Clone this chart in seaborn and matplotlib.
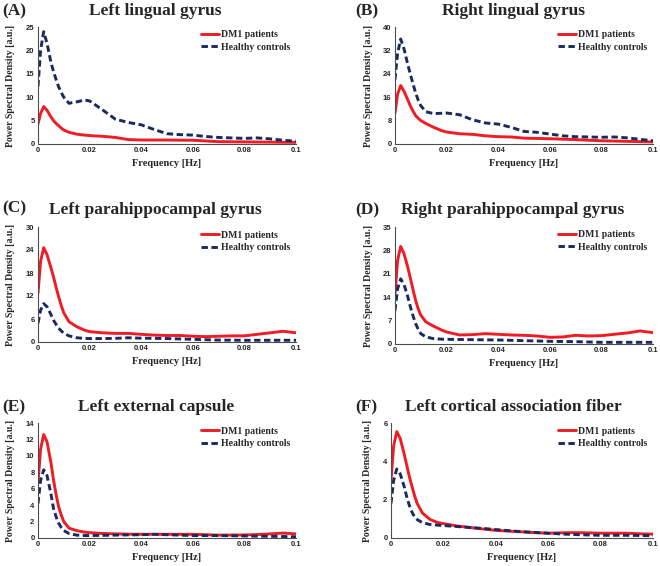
import numpy as np
import pandas as pd
import matplotlib
matplotlib.use("Agg")
import matplotlib.pyplot as plt
import seaborn as sns

freq = [0, 0.001, 0.0022, 0.0035, 0.005, 0.006, 0.007, 0.008, 0.009, 0.01, 0.012, 0.015,
        0.018, 0.02, 0.025, 0.03, 0.035, 0.04, 0.045, 0.05, 0.055, 0.06, 0.065, 0.07,
        0.075, 0.08, 0.085, 0.09, 0.095, 0.1]

a_dm1 = [4.3, 6.5, 8.0, 7.2, 5.8, 5.0, 4.4, 3.9, 3.4, 3.0, 2.5, 2.1, 1.9, 1.8, 1.65, 1.4,
         0.95, 0.85, 0.85, 0.85, 0.82, 0.8, 0.65, 0.5, 0.47, 0.45, 0.42, 0.4, 0.37, 0.35]
a_hc = [12.3, 20, 24, 21.5, 17.5, 15.5, 13.8, 12.2, 11, 10, 8.7, 9.0, 9.4, 9.2, 7.3, 5.3,
        4.6, 4.1, 3.1, 2.2, 2.0, 1.9, 1.6, 1.4, 1.3, 1.2, 1.3, 1.1, 0.8, 0.6]
b_dm1 = [10.6, 17, 20, 18, 15, 12.9, 11.2, 9.7, 8.8, 8, 7, 5.7, 4.6, 4.1, 3.5, 3.3, 2.8,
         2.5, 2.4, 2.0, 1.9, 1.8, 1.65, 1.5, 1.3, 1.1, 1.0, 0.9, 0.8, 0.7]
b_hc = [22, 31, 35.9, 32.5, 27, 23.7, 20.5, 17.4, 15, 13.1, 11, 10.4, 10.5, 10.6, 10, 8.3,
        7.2, 6.8, 5.7, 4.3, 4.0, 3.4, 2.8, 2.5, 2.4, 2.3, 2.4, 2.1, 1.6, 1.1]
c_dm1 = [12.7, 21, 24.6, 22.8, 19.4, 17, 14.3, 11.8, 9.5, 7.6, 5.3, 4, 3.1, 2.7, 2.4, 2.25,
         2.25, 2.0, 1.8, 1.7, 1.7, 1.5, 1.4, 1.5, 1.6, 1.6, 2.0, 2.4, 2.8, 2.4]
c_hc = [4.9, 8.3, 10, 9.2, 7.2, 5.7, 4.6, 3.6, 2.9, 2.3, 1.6, 1.1, 0.95, 0.9, 0.9, 0.95,
        1.1, 1.0, 0.95, 0.9, 0.8, 0.7, 0.6, 0.5, 0.48, 0.45, 0.45, 0.45, 0.45, 0.45]
d_dm1 = [15, 25, 29.2, 27, 22.8, 19.5, 16.2, 13, 10.5, 8.6, 6.6, 5.3, 4.2, 3.6, 2.7, 2.8,
         3.1, 2.9, 2.7, 2.6, 2.4, 2.0, 2.1, 2.6, 2.4, 2.5, 2.9, 3.3, 3.9, 3.4]
d_hc = [10, 16.5, 19.5, 17.8, 14, 11, 8.4, 6.1, 4.4, 3.1, 2.1, 1.6, 1.45, 1.4, 1.35, 1.3,
        1.25, 1.2, 1.1, 1.0, 0.9, 0.8, 0.75, 0.7, 0.6, 0.5, 0.5, 0.5, 0.5, 0.5]
e_dm1 = [6.7, 10.8, 12.6, 11.7, 9.2, 7.1, 5.3, 3.8, 2.8, 2.0, 1.2, 0.9, 0.72, 0.65, 0.55,
         0.5, 0.47, 0.45, 0.45, 0.45, 0.45, 0.45, 0.4, 0.35, 0.36, 0.37, 0.42, 0.5, 0.6, 0.5]
e_hc = [4.2, 7.0, 8.3, 7.6, 5.4, 3.6, 2.6, 1.8, 1.3, 0.9, 0.55, 0.35, 0.3, 0.3, 0.32, 0.35,
        0.38, 0.4, 0.45, 0.4, 0.35, 0.3, 0.3, 0.3, 0.28, 0.25, 0.22, 0.2, 0.18, 0.15]
f_dm1 = [3.0, 4.8, 5.55, 5.2, 4.4, 3.8, 3.2, 2.7, 2.2, 1.8, 1.3, 0.96, 0.8, 0.75, 0.63,
         0.55, 0.47, 0.4, 0.36, 0.32, 0.28, 0.25, 0.27, 0.28, 0.27, 0.25, 0.25, 0.25, 0.22, 0.2]
f_hc = [1.8, 3.0, 3.6, 3.35, 2.7, 2.15, 1.7, 1.35, 1.1, 0.96, 0.8, 0.7, 0.67, 0.65, 0.6,
        0.55, 0.5, 0.44, 0.38, 0.33, 0.29, 0.25, 0.21, 0.18, 0.16, 0.14, 0.14, 0.14, 0.13, 0.12]

titles = ["Left lingual gyrus", "Right lingual gyrus", "Left parahippocampal gyrus",
          "Right parahippocampal gyrus", "Left external capsule",
          "Left cortical association fiber"]
panel_labels = ["(A)", "(B)", "(C)", "(D)", "(E)", "(F)"]
series_names = ["DM1 patients", "Healthy controls"]
y_ticks = [[0, 5, 10, 15, 20, 25], [0, 8, 16, 24, 32, 40], [0, 6, 12, 18, 24, 30],
           [0, 7, 14, 21, 28, 35], [0, 2, 4, 6, 8, 10, 12, 14], [0, 2, 4, 6]]
x_ticks = [0, 0.02, 0.04, 0.06, 0.08, 0.1]
x_tick_labels = ["0", "0.02", "0.04", "0.06", "0.08", "0.1"]
dm1_all = [a_dm1, b_dm1, c_dm1, d_dm1, e_dm1, f_dm1]
hc_all = [a_hc, b_hc, c_hc, d_hc, e_hc, f_hc]

sns.set_theme(style="white")
plt.rcParams["font.family"] = ["Liberation Serif", "DejaVu Serif"]
plt.rcParams["font.weight"] = "bold"

W, H = 660, 566
fig = plt.figure(figsize=(W / 100, H / 100), dpi=100)

# pixel boxes: left, right, top, bottom
boxes = [(38, 296, 27, 144), (395, 653, 27, 144),
         (38, 296, 227, 342), (395, 653, 227, 344),
         (38, 296, 423, 538), (391, 653, 423, 538)]
ylabel_x = [15, 373, 15, 373, 15, 372]
title_pos = [(155, 11), (513, 11), (155, 210), (513, 210), (156, 407), (513, 407)]
label_pos = [(2, 11), (355, 11), (2, 208), (355, 210), (2, 407), (355, 407)]

red = "#ee1c24"
navy = "#1a2a5e"
tick_font = {"family": ["Liberation Sans", "DejaVu Sans"], "weight": "bold", "size": 5.5}

for i in range(6):
    l, r, t, b = boxes[i]
    ax = fig.add_axes([l / W, 1 - b / H, (r - l) / W, (b - t) / H])
    df = pd.DataFrame({"freq": freq * 2,
                       "psd": list(dm1_all[i]) + list(hc_all[i]),
                       "group": [series_names[0]] * len(freq) + [series_names[1]] * len(freq)})
    sns.lineplot(data=df, x="freq", y="psd", hue="group", style="group",
                 palette={series_names[0]: red, series_names[1]: navy},
                 dashes={series_names[0]: "", series_names[1]: (2.2, 1.2)},
                 linewidth=2.1, ax=ax, legend=True)
    ax.set_xlim(0, 0.1)
    ax.set_ylim(0, y_ticks[i][-1])
    ax.set_xticks(x_ticks)
    ax.set_xticklabels(x_tick_labels, fontdict=tick_font)
    ax.set_yticks(y_ticks[i])
    ax.set_yticklabels([str(v) for v in y_ticks[i]], fontdict=tick_font)
    ax.tick_params(axis="both", length=0, pad=2.5)
    for s in ["top", "right"]:
        ax.spines[s].set_visible(False)
    for s in ["left", "bottom"]:
        ax.spines[s].set_color("#4d4d4d")
        ax.spines[s].set_linewidth(0.8)
    ax.set_xlabel("Frequency [Hz]", fontsize=7.5, fontweight="bold")
    ax.set_ylabel("Power Spectral Density [a.u.]", fontsize=7, fontweight="bold")
    ax.yaxis.set_label_coords((ylabel_x[i] - l) / (r - l), 0.5)
    ax.xaxis.set_label_coords(0.5, -15.5 / (b - t))
    ax.legend(loc="upper right", bbox_to_anchor=(1.0, 1.02), frameon=False,
              prop={"size": 7, "weight": "bold"}, handlelength=1.8,
              handletextpad=0.2, labelspacing=0.35, borderaxespad=0.2)
    fig.text(title_pos[i][0] / W, 1 - title_pos[i][1] / H, titles[i], fontsize=12.5,
             fontweight="bold", ha="center", va="center")
    fig.text(label_pos[i][0] / W, 1 - label_pos[i][1] / H, panel_labels[i], fontsize=12.5,
             fontweight="bold", ha="left", va="center")

fig.savefig("out.png", dpi=100)
